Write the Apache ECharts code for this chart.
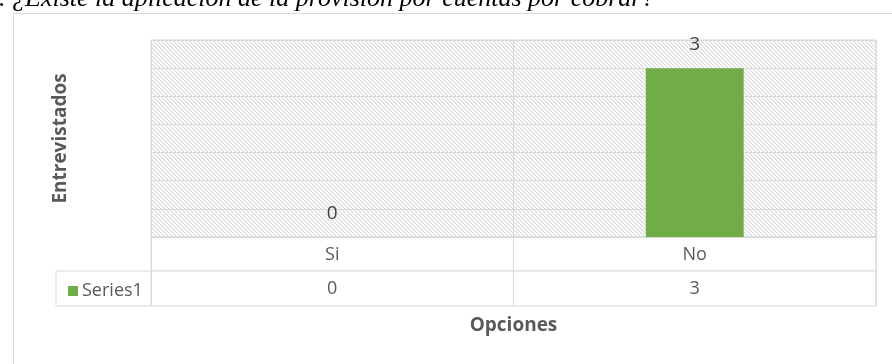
<!DOCTYPE html>
<html>
<head>
<meta charset="utf-8">
<script src="https://cdn.jsdelivr.net/npm/echarts@6/dist/echarts.min.js"></script>
<style>
html,body{margin:0;padding:0;background:#fff;}
#c{width:892px;height:364px;}
</style>
</head>
<body>
<div id="c"></div>
<script>
const titleText = '. ¿Existe la aplicación de la provisión por cuentas por cobrar?';
const categories = ['Si', 'No'];
const values = [0, 3];
const seriesName = 'Series1';
const yAxisTitle = 'Entrevistados';
const xAxisTitle = 'Opciones';

function hatch() {
  const n = 4;
  const cv = document.createElement('canvas');
  cv.width = n; cv.height = n;
  const ctx = cv.getContext('2d');
  ctx.fillStyle = '#ffffff';
  ctx.fillRect(0, 0, n, n);
  for (let i = 0; i < n; i++) {
    ctx.fillStyle = '#d6d6d6';
    ctx.fillRect(i, i, 1, 1);
    ctx.fillStyle = '#f0f0f0';
    ctx.fillRect((i + 1) % n, i, 1, 1);
  }
  return cv;
}

const chart = echarts.init(document.getElementById('c'), null, {renderer: 'canvas'});
const lineCol = '#d9d9d9';
const txtCol = '#595959';
const font = '"Open Sans", "Noto Sans", sans-serif';

const gridL = 151, gridR = 16;
chart.setOption({
  animation: false,
  backgroundColor: '#ffffff',
  textStyle: {fontFamily: font},
  graphic: [
    {type: 'rect', left: 11, top: 11, shape: {width: 1000, height: 1000}, style: {fill: 'none', stroke: lineCol, lineWidth: 1}, silent: true, z: -10},
    {type: 'text', x: -1, y: 12, style: {text: titleText, font: 'italic 26px "Liberation Serif", serif', fill: '#000', verticalAlign: 'bottom'}}
  ],
  grid: [
    {left: gridL, right: gridR, top: 40, height: 197, show: true, borderColor: lineCol, borderWidth: 1,
     backgroundColor: {image: hatch(), repeat: 'repeat'}},
    {left: gridL, right: gridR, top: 237, height: 34, show: true, borderColor: lineCol, borderWidth: 1, backgroundColor: '#fff'},
    {left: gridL, right: gridR, top: 271, height: 35, show: true, borderColor: lineCol, borderWidth: 1, backgroundColor: '#fff'},
    {left: 56, width: 95, top: 271, height: 35, show: true, borderColor: lineCol, borderWidth: 1, backgroundColor: '#fff'}
  ],
  xAxis: [
    {gridIndex: 0, type: 'category', data: categories, axisLine: {show: false}, axisTick: {show: false},
     axisLabel: {show: false}, splitLine: {show: true, interval: 0, lineStyle: {color: lineCol}},
     name: xAxisTitle, nameLocation: 'middle', nameGap: 79,
     nameTextStyle: {fontSize: 19, fontWeight: 'bold', color: txtCol, fontFamily: font}},
    {gridIndex: 1, type: 'category', data: categories, position: 'top', axisLine: {show: false}, axisTick: {show: false},
     axisLabel: {inside: true, margin: 9, fontSize: 18, color: txtCol, fontFamily: font, interval: 0},
     splitLine: {show: true, interval: 0, lineStyle: {color: lineCol}}},
    {gridIndex: 2, type: 'category', data: categories, position: 'top', axisLine: {show: false}, axisTick: {show: false},
     axisLabel: {inside: true, margin: 9, fontSize: 18, color: txtCol, fontFamily: font, interval: 0,
       formatter: (v, i) => String(values[i])},
     splitLine: {show: true, interval: 0, lineStyle: {color: lineCol}}},
    {gridIndex: 3, type: 'category', data: [''], show: false}
  ],
  yAxis: [
    {gridIndex: 0, type: 'value', min: 0, max: 3.5, interval: 0.5, axisLine: {show: false}, axisTick: {show: false},
     axisLabel: {show: false}, splitLine: {show: true, lineStyle: {color: lineCol}},
     name: yAxisTitle, nameLocation: 'middle', nameGap: 81,
     nameTextStyle: {fontSize: 19, fontWeight: 'bold', color: txtCol, fontFamily: font}},
    {gridIndex: 1, type: 'value', show: false},
    {gridIndex: 2, type: 'value', show: false},
    {gridIndex: 3, type: 'value', show: false}
  ],
  legend: {
    data: [seriesName], left: 63, top: 277, icon: 'rect', itemWidth: 10, itemHeight: 10, itemGap: 4,
    textStyle: {fontSize: 18, color: txtCol, fontFamily: font, padding: [0, 0, 0, -1]}
  },
  series: [{
    name: seriesName, type: 'bar', xAxisIndex: 0, yAxisIndex: 0, data: values, barWidth: '27%',
    itemStyle: {color: '#70ad47'},
    label: {show: true, position: 'top', distance: 14, fontSize: 19, color: '#404040', fontFamily: font}
  }]
});
</script>
</body>
</html>
